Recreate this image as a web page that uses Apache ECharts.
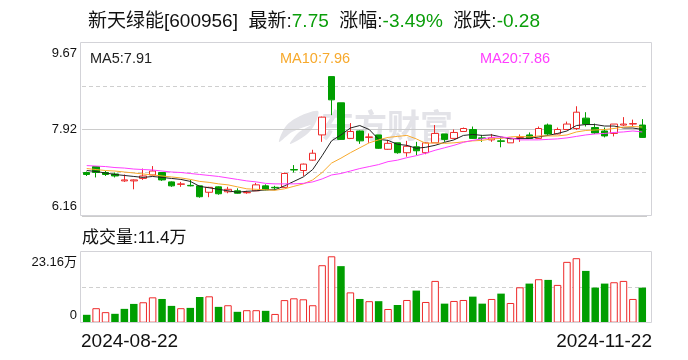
<!DOCTYPE html>
<html>
<head>
<meta charset="utf-8">
<script src="https://cdn.jsdelivr.net/npm/echarts@6/dist/echarts.min.js"></script>
<style>html,body{margin:0;padding:0;background:#fff}#c{width:688px;height:360px}</style>
</head>
<body>
<div id="c"></div>
<script>
// ---------- data ----------
const categories = [
  '2024-08-22','2024-08-23','2024-08-26','2024-08-27','2024-08-28','2024-08-29','2024-08-30',
  '2024-09-02','2024-09-03','2024-09-04','2024-09-05','2024-09-06','2024-09-09','2024-09-10',
  '2024-09-11','2024-09-12','2024-09-13','2024-09-18','2024-09-19','2024-09-20','2024-09-23',
  '2024-09-24','2024-09-25','2024-09-26','2024-09-27','2024-09-30','2024-10-08','2024-10-09',
  '2024-10-10','2024-10-11','2024-10-14','2024-10-15','2024-10-16','2024-10-17','2024-10-18',
  '2024-10-21','2024-10-22','2024-10-23','2024-10-24','2024-10-25','2024-10-28','2024-10-29',
  '2024-10-30','2024-10-31','2024-11-01','2024-11-04','2024-11-05','2024-11-06','2024-11-07',
  '2024-11-08','2024-11-11','2024-11-12','2024-11-13','2024-11-14','2024-11-15','2024-11-18',
  '2024-11-19','2024-11-20','2024-11-21','2024-11-22'
];
const opens  = [7.04,7.16,7.04,7.01,6.87,6.87,6.92,6.99,7.04,6.85,6.80,6.78,6.77,6.64,6.75,6.65,6.67,6.63,6.67,6.77,
                6.74,6.74,7.10,7.08,7.29,7.80,8.98,8.45,7.73,7.88,7.75,7.80,7.51,7.64,7.44,7.56,7.44,7.64,7.82,7.73,
                7.87,7.91,7.74,7.70,7.68,7.64,7.75,7.80,7.73,8.00,7.82,7.91,7.93,8.14,7.95,7.88,7.83,8.00,8.02,8.00];
const closes = [7.00,7.04,7.00,6.97,6.89,6.89,6.97,7.07,6.89,6.77,6.81,6.77,6.55,6.74,6.61,6.70,6.62,6.64,6.79,6.69,
                6.73,7.02,7.09,7.21,7.43,8.16,8.51,7.71,7.87,7.68,7.76,7.53,7.63,7.44,7.57,7.48,7.64,7.83,7.71,7.85,
                7.93,7.73,7.73,7.74,7.67,7.73,7.76,7.73,7.93,7.82,7.91,8.02,8.26,8.02,7.84,7.78,8.02,8.02,8.03,7.75];
const lows   = [6.97,6.94,6.97,6.94,6.85,6.70,6.89,6.98,6.87,6.75,6.75,6.76,6.53,6.54,6.59,6.62,6.61,6.61,6.67,6.68,
                6.69,6.73,7.04,6.97,7.28,7.66,8.20,7.70,7.72,7.62,7.64,7.52,7.50,7.42,7.36,7.39,7.41,7.64,7.66,7.73,
                7.86,7.72,7.66,7.66,7.55,7.64,7.66,7.72,7.72,7.80,7.81,7.90,7.90,7.97,7.82,7.75,7.77,7.98,7.97,7.74];
const highs  = [7.06,7.16,7.07,7.04,7.00,6.90,7.12,7.17,7.05,6.86,6.85,6.89,6.77,6.75,6.76,6.75,6.72,6.67,6.83,6.80,
                6.77,7.04,7.19,7.22,7.50,8.17,8.98,8.45,8.04,7.89,7.83,7.80,7.70,7.64,7.68,7.66,7.65,8.00,7.82,7.91,
                7.95,7.97,7.80,7.82,7.75,7.74,7.81,7.85,7.97,8.03,7.95,8.07,8.38,8.26,8.03,7.95,8.02,8.16,8.11,8.12];
// volume in 万
const volumes = [2.57,4.72,3.43,2.89,4.50,6.11,6.65,8.25,7.72,5.47,4.72,4.82,8.36,8.58,5.15,5.68,3.54,4.07,4.07,3.86,
                 2.85,7.35,7.93,7.61,5.68,18.7,21.6,18.4,9.86,7.72,7.00,7.00,4.46,5.76,7.39,10.44,6.74,13.59,6.20,7.07,
                 7.39,8.48,6.20,7.72,9.46,6.41,11.52,12.72,14.14,13.92,12.29,19.79,20.98,16.85,11.42,12.72,13.16,13.59,7.72,11.40];
// 1 = red hollow bar, 0 = green solid bar
const volumeUp = [0,1,1,0,0,0,1,1,0,0,1,0,0,1,0,1,0,1,1,0,
                  1,1,1,1,1,1,1,0,1,0,1,0,1,0,1,0,1,1,0,1,
                  1,0,0,1,0,1,1,0,1,0,1,1,1,0,0,0,1,1,1,0];
const ma5  = [7.08,7.06,7.03,7.00,6.98,6.96,6.94,6.96,6.94,6.92,6.90,6.86,6.76,6.73,6.70,6.67,6.64,6.66,6.67,6.69,
              6.69,6.77,6.86,6.95,7.10,7.38,7.68,7.80,7.94,7.99,7.91,7.71,7.69,7.61,7.59,7.53,7.55,7.59,7.65,7.70,
              7.79,7.81,7.79,7.80,7.76,7.72,7.73,7.73,7.76,7.79,7.83,7.88,7.99,8.01,8.01,7.98,7.98,7.94,7.94,7.91];
const ma10 = [7.12,7.10,7.08,7.07,7.05,7.03,7.01,6.99,6.97,6.95,6.93,6.90,6.86,6.84,6.81,6.79,6.75,6.71,6.70,6.69,
              6.68,6.71,6.76,6.81,6.89,7.04,7.23,7.33,7.44,7.54,7.64,7.70,7.75,7.77,7.79,7.72,7.63,7.64,7.63,7.64,
              7.66,7.68,7.69,7.72,7.73,7.76,7.77,7.76,7.78,7.78,7.78,7.80,7.86,7.89,7.90,7.91,7.93,7.96,7.97,7.96];
const ma20 = [7.18,7.17,7.16,7.14,7.13,7.11,7.10,7.09,7.07,7.05,7.04,7.02,7.00,6.98,6.96,6.93,6.90,6.87,6.85,6.82,
              6.81,6.81,6.81,6.82,6.85,6.91,6.99,7.02,7.07,7.12,7.16,7.20,7.26,7.29,7.34,7.38,7.43,7.49,7.54,7.59,
              7.65,7.69,7.72,7.75,7.76,7.74,7.70,7.70,7.70,7.71,7.72,7.74,7.77,7.80,7.82,7.83,7.85,7.86,7.88,7.86];
const priceTickLabels  = ['6.16', '', '7.92', '', '9.67'];
const volumeTickLabels = ['0', '', '23.16万'];
const titleParts = ['新天绿能[600956]', '最新:', '7.75', '涨幅:', '-3.49%', '涨跌:', '-0.28'];
const maLabels = ['MA5:7.91', 'MA10:7.96', 'MA20:7.86'];
const volumeLabel = '成交量:11.4万';
const watermark = '东方财富';

// ---------- style ----------
const RED = '#ee2a2a', GREEN = '#009e00';
const C_MA5 = '#222222', C_MA10 = '#f7a92c', C_MA20 = '#ff3dff';
const FONT = '"Liberation Sans", "Noto Sans CJK SC", sans-serif';
const DASH = '#cfcfcf';

const chart = echarts.init(document.getElementById('c'), null, {renderer: 'canvas'});

const candleData = opens.map((o, i) => [o, closes[i], lows[i], highs[i]]);
const volData = volumes.map((v, i) => ({
  value: v,
  itemStyle: volumeUp[i] ? {color: '#ffffff', borderColor: RED, borderWidth: 1} : {color: GREEN, borderWidth: 0}
}));
const last = categories.length - 1;

const hiddenCat = (grid) => ({
  type: 'category', gridIndex: grid, data: categories, boundaryGap: true,
  axisLine: {show: false}, axisTick: {show: false}, axisLabel: {show: false}, splitLine: {show: false}
});
const dateAxis = (which) => ({
  type: 'category', gridIndex: 2, data: categories, boundaryGap: false, position: 'bottom',
  axisLine: {show: false}, axisTick: {show: false}, splitLine: {show: false},
  axisLabel: {
    show: true, interval: (idx) => which === 'first' ? idx === 0 : idx === last,
    align: which === 'first' ? 'left' : 'right', margin: 10,
    fontSize: 19, color: '#111', fontFamily: FONT
  }
});
// edge labels are pushed inside the panel: top label down, bottom label up
const edgeLabel = (labels, topLH, botLH) => ({
  showMinLabel: true, showMaxLabel: true, margin: 5, color: '#111',
  formatter: (v, i) => {
    const s = labels[i];
    if (i === 0) return '{b|' + s + '}\n{b| }';
    if (i === labels.length - 1) return '{t| }\n{t|' + s + '}';
    return '{m|' + s + '}';
  },
  rich: {
    t: {fontSize: 13, lineHeight: topLH, color: '#111', fontFamily: FONT},
    b: {fontSize: 13, lineHeight: botLH, color: '#111', fontFamily: FONT},
    m: {fontSize: 13, color: '#111', fontFamily: FONT}
  }
});

chart.setOption({
  animation: false,
  textStyle: {fontFamily: FONT},
  title: [
    {
      left: 88, top: 12, padding: 0,
      text: `{k|${titleParts[0]}  ${titleParts[1]}}{g|${titleParts[2]}}{k|  ${titleParts[3]}}{g|${titleParts[4]}}{k|  ${titleParts[5]}}{g|${titleParts[6]}}`,
      textStyle: {
        fontWeight: 'normal',
        rich: {
          k: {fontSize: 19, fontWeight: 'normal', color: '#111', fontFamily: FONT},
          g: {fontSize: 19, fontWeight: 'normal', color: '#0a9e0a', fontFamily: FONT}
        }
      }
    },
    {left: 90, top: 52, padding: 0, text: maLabels[0], textStyle: {fontSize: 14.5, fontWeight: 'normal', color: C_MA5, fontFamily: FONT}},
    {left: 280, top: 52, padding: 0, text: maLabels[1], textStyle: {fontSize: 14.5, fontWeight: 'normal', color: C_MA10, fontFamily: FONT}},
    {left: 480, top: 52, padding: 0, text: maLabels[2], textStyle: {fontSize: 14.5, fontWeight: 'normal', color: C_MA20, fontFamily: FONT}},
    {left: 82, top: 230, padding: 0, text: volumeLabel, textStyle: {fontSize: 17, fontWeight: 'normal', color: '#111', fontFamily: FONT}}
  ],
  graphic: [
    {
      type: 'polygon', z: -10, silent: true,
      shape: {points: [[318, 111], [300, 116], [286, 126], [279, 142], [292, 132], [311, 125], [298, 133], [290, 144], [306, 135], [315, 124]], smooth: 0.3},
      style: {fill: '#e3e3e8'}
    },
    {
      type: 'text', z: -10, silent: true, left: 321, top: 109,
      style: {text: watermark, fontSize: 33, fontWeight: 'bold', fill: '#e3e3e8', fontFamily: '"Noto Sans CJK SC", sans-serif'}
    },
    {
      type: 'rect', z: 50, silent: true,
      shape: {x: 80.5, y: 42.5, width: 571, height: 173},
      style: {fill: 'none', stroke: '#d3d3d8', lineWidth: 1}
    },
    {
      type: 'rect', z: 50, silent: true,
      shape: {x: 80.5, y: 251.5, width: 571, height: 71},
      style: {fill: 'none', stroke: '#d3d3d8', lineWidth: 1}
    }
  ],
  grid: [
    {left: 82, right: 41, top: 42.5, height: 173.5, show: false},
    {left: 82, right: 41, top: 251.5, height: 71.2, show: false},
    {left: 81, right: 36, top: 251.5, height: 71.2, show: false}
  ],
  xAxis: [hiddenCat(0), hiddenCat(1), dateAxis('first'), dateAxis('last')],
  yAxis: [
    {
      type: 'value', gridIndex: 0, min: 6.16, max: 9.67, interval: 0.8775,
      axisLine: {show: false}, axisTick: {show: false},
      splitLine: {show: true, lineStyle: {color: [DASH, DASH, 'rgba(0,0,0,0)', DASH, DASH], type: [4, 3], width: 1}},
      axisLabel: edgeLabel(priceTickLabels, 22, 20)
    },
    {
      type: 'value', gridIndex: 0, min: 6.16, max: 9.67, interval: 1.755, position: 'right',
      axisLine: {show: false}, axisTick: {show: false}, axisLabel: {show: false},
      splitLine: {show: true, lineStyle: {color: '#cccccc', type: 'solid', width: 1}}
    },
    {
      type: 'value', gridIndex: 1, min: 0, max: 23.16, interval: 11.58,
      axisLine: {show: false}, axisTick: {show: false},
      splitLine: {show: true, lineStyle: {color: DASH, type: [4, 3], width: 1}},
      axisLabel: edgeLabel(volumeTickLabels, 21, 15)
    },
    {type: 'value', gridIndex: 2, show: false, min: 0, max: 1}
  ],
  series: [
    {
      name: 'K', type: 'candlestick', xAxisIndex: 0, yAxisIndex: 0, data: candleData, barWidth: 7,
      itemStyle: {color: '#ffffff', color0: GREEN, borderColor: RED, borderColor0: GREEN, borderWidth: 1}
    },
    {name: 'MA5', type: 'line', xAxisIndex: 0, yAxisIndex: 0, data: ma5, symbol: 'none', lineStyle: {width: 1, color: C_MA5}, z: 3},
    {name: 'MA10', type: 'line', xAxisIndex: 0, yAxisIndex: 0, data: ma10, symbol: 'none', lineStyle: {width: 1, color: C_MA10}, z: 3},
    {name: 'MA20', type: 'line', xAxisIndex: 0, yAxisIndex: 0, data: ma20, symbol: 'none', lineStyle: {width: 1, color: C_MA20}, z: 3},
    {name: 'VOL', type: 'bar', xAxisIndex: 1, yAxisIndex: 2, data: volData, barWidth: 7.5}
  ]
});
</script>
</body>
</html>
